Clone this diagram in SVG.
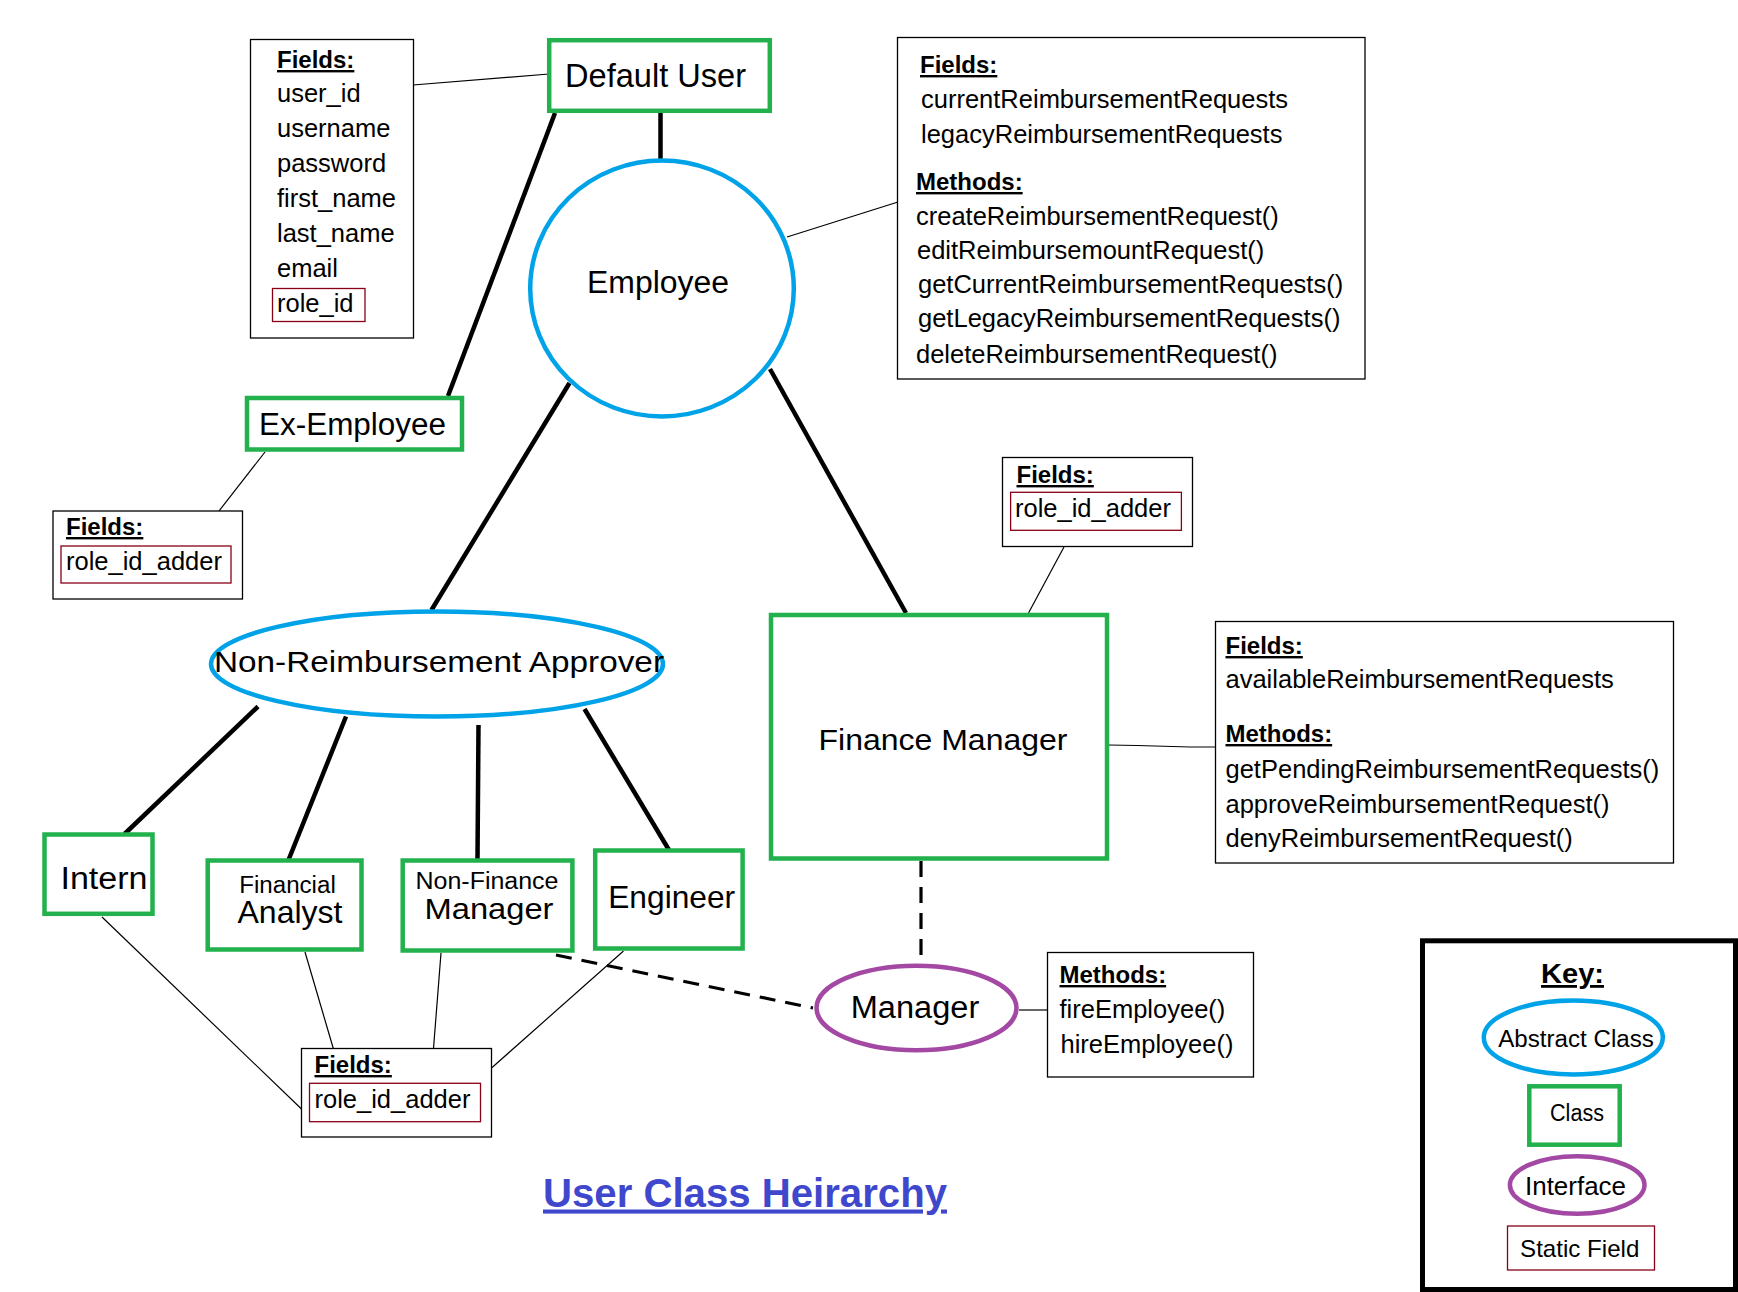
<svg xmlns="http://www.w3.org/2000/svg" width="1738" height="1292" viewBox="0 0 1738 1292">
<style>
text{font-family:"Liberation Sans",Arial,sans-serif;fill:#000}
.cls{fill:#fff;stroke:#22B14C;stroke-width:4.5}
.abs{fill:#fff;stroke:#00A2E8;stroke-width:4.5}
.intf{fill:#fff;stroke:#A349A4;stroke-width:4.5}
.box{fill:#fff;stroke:#000;stroke-width:1.3}
.static{fill:none;stroke:#880015;stroke-width:1.3}
.thick{stroke:#000;stroke-width:4.5;fill:none}
.thin{stroke:#000;stroke-width:1.2;fill:none}
.dash{stroke:#000;stroke-width:3.2;fill:none;stroke-dasharray:16 10}
.hd{font-weight:bold;font-size:24px;text-decoration:underline}
.it{font-size:25.5px}
.lbl{text-anchor:middle}
.title{font-weight:bold;font-size:41px;fill:#3F48CC;text-decoration:underline;text-anchor:middle}
</style>
<rect width="1738" height="1292" fill="#fff"/>

<g id="connectors">
  <line class="thin" x1="413" y1="85" x2="549" y2="74"/>
  <line class="thick" x1="660.5" y1="111" x2="660.5" y2="160"/>
  <line class="thick" x1="555" y1="113" x2="448" y2="396"/>
  <line class="thin" x1="787" y1="237" x2="898" y2="202"/>
  <line class="thin" x1="265" y1="452" x2="219" y2="511"/>
  <line class="thick" x1="569.5" y1="383" x2="431.5" y2="610"/>
  <line class="thick" x1="770" y1="369" x2="906" y2="613"/>
  <line class="thin" x1="1064" y1="547" x2="1028.5" y2="613"/>
  <polyline class="thin" points="1109,745 1137,745.5 1190,747 1216,747"/>
  <line class="dash" x1="921" y1="861" x2="921" y2="965"/>
  <line class="dash" x1="556" y1="955" x2="813" y2="1008"/>
  <line class="thin" x1="1019" y1="1010" x2="1047.5" y2="1010"/>
  <line class="thick" x1="258" y1="706.5" x2="124.5" y2="834"/>
  <line class="thick" x1="346" y1="716.5" x2="288.5" y2="860"/>
  <line class="thick" x1="478.5" y1="725" x2="477.5" y2="860"/>
  <line class="thick" x1="584.5" y1="709" x2="669" y2="850"/>
  <line class="thin" x1="102" y1="917" x2="301.5" y2="1109"/>
  <line class="thin" x1="305" y1="952" x2="333.3" y2="1048.5"/>
  <line class="thin" x1="441" y1="953" x2="433.5" y2="1048.5"/>
  <line class="thin" x1="623.5" y1="951" x2="491.5" y2="1068"/>
</g>

<g id="default-user">
  <rect class="cls" x="549.2" y="40.2" width="220.6" height="70.6"/>
  <text class="lbl" x="655.5" y="87" font-size="33" textLength="181" lengthAdjust="spacingAndGlyphs">Default User</text>
</g>

<g id="default-user-fields">
  <rect class="box" x="250.5" y="39.5" width="163" height="298.5"/>
  <text class="hd" x="277" y="68">Fields:</text>
  <text class="it" x="277" y="102">user_id</text>
  <text class="it" x="277" y="137">username</text>
  <text class="it" x="277" y="172">password</text>
  <text class="it" x="277" y="207">first_name</text>
  <text class="it" x="277" y="242">last_name</text>
  <text class="it" x="277" y="277">email</text>
  <rect class="static" x="272.5" y="288.5" width="92.5" height="33"/>
  <text class="it" x="277" y="312">role_id</text>
</g>

<g id="employee">
  <ellipse class="abs" cx="662" cy="288.5" rx="131.8" ry="128"/>
  <text class="lbl" x="658" y="293" font-size="31" textLength="142" lengthAdjust="spacingAndGlyphs">Employee</text>
</g>

<g id="employee-members">
  <rect class="box" x="897.5" y="37.5" width="467.5" height="341.5"/>
  <text class="hd" x="920" y="73">Fields:</text>
  <text class="it" x="921" y="108">currentReimbursementRequests</text>
  <text class="it" x="921" y="143">legacyReimbursementRequests</text>
  <text class="hd" x="916" y="190">Methods:</text>
  <text class="it" x="916" y="225">createReimbursementRequest()</text>
  <text class="it" x="917" y="259">editReimbursemountRequest()</text>
  <text class="it" x="918" y="293">getCurrentReimbursementRequests()</text>
  <text class="it" x="918" y="327">getLegacyReimbursementRequests()</text>
  <text class="it" x="916" y="363">deleteReimbursementRequest()</text>
</g>

<g id="ex-employee">
  <rect class="cls" x="247" y="398" width="215" height="51.5"/>
  <text class="lbl" x="352.5" y="435" font-size="31" textLength="187" lengthAdjust="spacingAndGlyphs">Ex-Employee</text>
</g>

<g id="ex-employee-fields">
  <rect class="box" x="53" y="511" width="189.5" height="88"/>
  <text class="hd" x="66" y="535">Fields:</text>
  <rect class="static" x="61" y="546" width="170" height="37"/>
  <text class="it" x="66" y="570">role_id_adder</text>
</g>

<g id="non-reimbursement-approver">
  <ellipse class="abs" cx="437" cy="664" rx="226" ry="52.5"/>
  <text class="lbl" x="439" y="672" font-size="30" textLength="450" lengthAdjust="spacingAndGlyphs">Non-Reimbursement Approver</text>
</g>

<g id="finance-manager">
  <rect class="cls" x="771" y="615" width="336" height="243.5"/>
  <text class="lbl" x="943" y="750" font-size="30" textLength="249" lengthAdjust="spacingAndGlyphs">Finance Manager</text>
</g>

<g id="finance-manager-fields">
  <rect class="box" x="1002.5" y="457.5" width="190" height="89"/>
  <text class="hd" x="1016.5" y="483">Fields:</text>
  <rect class="static" x="1010.6" y="492.3" width="170.8" height="38"/>
  <text class="it" x="1015" y="517">role_id_adder</text>
</g>

<g id="finance-manager-members">
  <rect class="box" x="1215.5" y="621.5" width="458" height="241.5"/>
  <text class="hd" x="1225.5" y="654">Fields:</text>
  <text class="it" x="1225.5" y="688">availableReimbursementRequests</text>
  <text class="hd" x="1225.5" y="742">Methods:</text>
  <text class="it" x="1225.5" y="778">getPendingReimbursementRequests()</text>
  <text class="it" x="1225.5" y="813">approveReimbursementRequest()</text>
  <text class="it" x="1225.5" y="847">denyReimbursementRequest()</text>
</g>

<g id="manager">
  <ellipse class="intf" cx="916.5" cy="1008" rx="100" ry="42.3"/>
  <text class="lbl" x="915" y="1018" font-size="31" textLength="128.5" lengthAdjust="spacingAndGlyphs">Manager</text>
</g>

<g id="manager-methods">
  <rect class="box" x="1047.5" y="952.5" width="206" height="124.5"/>
  <text class="hd" x="1059.5" y="983">Methods:</text>
  <text class="it" x="1059.5" y="1018" font-size="26.5px">fireEmployee()</text>
  <text class="it" x="1060.5" y="1053" font-size="26.5px">hireEmployee()</text>
</g>

<g id="intern">
  <rect class="cls" x="44.5" y="834.5" width="108" height="79.3"/>
  <text class="lbl" x="104" y="889" font-size="31" textLength="87" lengthAdjust="spacingAndGlyphs">Intern</text>
</g>

<g id="financial-analyst">
  <rect class="cls" x="207.7" y="860.5" width="153.8" height="89"/>
  <text class="lbl" x="287.5" y="893" font-size="23.5" textLength="96.5" lengthAdjust="spacingAndGlyphs">Financial</text>
  <text class="lbl" x="290" y="923" font-size="30.5" textLength="105" lengthAdjust="spacingAndGlyphs">Analyst</text>
</g>

<g id="non-finance-manager">
  <rect class="cls" x="402.7" y="860.5" width="169.7" height="90"/>
  <text class="lbl" x="487" y="889" font-size="23" textLength="143" lengthAdjust="spacingAndGlyphs">Non-Finance</text>
  <text class="lbl" x="489" y="919" font-size="30" textLength="129" lengthAdjust="spacingAndGlyphs">Manager</text>
</g>

<g id="engineer">
  <rect class="cls" x="595.2" y="850.5" width="147.4" height="98"/>
  <text class="lbl" x="671.7" y="908" font-size="30.5" textLength="127" lengthAdjust="spacingAndGlyphs">Engineer</text>
</g>

<g id="non-reimbursement-fields">
  <rect class="box" x="301.5" y="1048.5" width="190" height="88.5"/>
  <text class="hd" x="314.5" y="1073">Fields:</text>
  <rect class="static" x="309.5" y="1083.3" width="171" height="38.4"/>
  <text class="it" x="314.5" y="1108">role_id_adder</text>
</g>

<g id="title">
  <text class="title" x="745" y="1206.5" textLength="404" lengthAdjust="spacingAndGlyphs">User Class Heirarchy</text>
</g>

<g id="key">
  <rect x="1422.5" y="940.8" width="313" height="348.7" fill="#fff" stroke="#000" stroke-width="5"/>
  <text x="1572.5" y="983" text-anchor="middle" font-weight="bold" font-size="28" text-decoration="underline" textLength="63" lengthAdjust="spacingAndGlyphs">Key:</text>
  <ellipse class="abs" cx="1573.3" cy="1037.5" rx="89.5" ry="37"/>
  <text class="lbl" x="1576" y="1046.5" font-size="23.5" textLength="155.7" lengthAdjust="spacingAndGlyphs">Abstract Class</text>
  <rect class="cls" x="1529.3" y="1086.3" width="90.4" height="58.4"/>
  <text class="lbl" x="1577" y="1121" font-size="23" textLength="54" lengthAdjust="spacingAndGlyphs">Class</text>
  <ellipse class="intf" cx="1577.2" cy="1185" rx="67.3" ry="28.8"/>
  <text class="lbl" x="1575.5" y="1195" font-size="25" textLength="101" lengthAdjust="spacingAndGlyphs">Interface</text>
  <rect class="static" x="1507.5" y="1226" width="147" height="44"/>
  <text class="lbl" x="1579.7" y="1257" font-size="24" textLength="119.3" lengthAdjust="spacingAndGlyphs">Static Field</text>
</g>
</svg>
